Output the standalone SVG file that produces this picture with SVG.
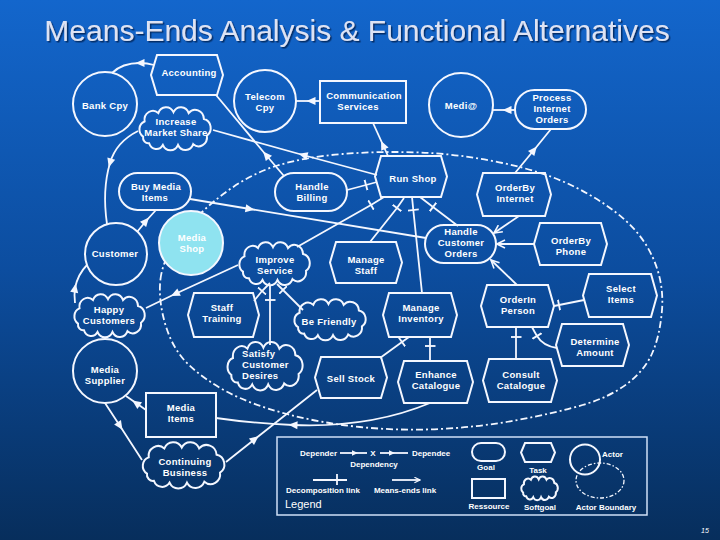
<svg xmlns="http://www.w3.org/2000/svg" width="720" height="540" viewBox="0 0 720 540">
<defs>
  <linearGradient id="bg" x1="0" y1="0" x2="0" y2="1">
    <stop offset="0" stop-color="#1366cc"/>
    <stop offset="0.5" stop-color="#0c4d9f"/>
    <stop offset="1" stop-color="#072e5c"/>
  </linearGradient>
  <filter id="shadow" x="-5%" y="-30%" width="110%" height="160%">
    <feDropShadow dx="1.5" dy="1.5" stdDeviation="0.6" flood-color="#06285a" flood-opacity="0.85"/>
  </filter>
  <marker id="dep" viewBox="0 0 10 10" refX="5" refY="5" markerWidth="10" markerHeight="9" markerUnits="userSpaceOnUse" orient="auto">
    <path d="M0,0.5 L10,5 L0,9.5 z" fill="#f4f7ff"/>
  </marker>
  <marker id="depS" viewBox="0 0 10 10" refX="5" refY="5" markerWidth="7" markerHeight="6" markerUnits="userSpaceOnUse" orient="auto">
    <path d="M0,0.5 L10,5 L0,9.5 z" fill="#f4f7ff"/>
  </marker>
  <marker id="tick" viewBox="0 0 10 10" refX="5" refY="5" markerWidth="11" markerHeight="11" markerUnits="userSpaceOnUse" orient="auto">
    <path d="M5,0 V10" stroke="#f4f7ff" stroke-width="1.7"/>
  </marker>
  <marker id="me" viewBox="0 0 10 10" refX="9" refY="5" markerWidth="10" markerHeight="10" markerUnits="userSpaceOnUse" orient="auto">
    <path d="M1,1 L9,5 L1,9" fill="none" stroke="#f4f7ff" stroke-width="1.6"/>
  </marker>
  <marker id="meS" viewBox="0 0 10 10" refX="9" refY="5" markerWidth="7" markerHeight="7" markerUnits="userSpaceOnUse" orient="auto">
    <path d="M1,1 L9,5 L1,9" fill="none" stroke="#f4f7ff" stroke-width="1.6"/>
  </marker>
  <symbol id="cloud" viewBox="0 0 100 50" preserveAspectRatio="none" style="overflow:visible">
    <path vector-effect="non-scaling-stroke" fill="none" stroke="#f4f7ff" stroke-width="2" d="M8,34 A10,10 0 0 1 10,16 A11,11 0 0 1 28,6 A11,11 0 0 1 48,5 A11,11 0 0 1 68,6 A11.5,11.5 0 0 1 88,13 A11,11 0 0 1 92,33 A11,11 0 0 1 74,43 A11,11 0 0 1 54,44 A11,11 0 0 1 34,44 A10,10 0 0 1 16,42 A7,7 0 0 1 8,34 Z"/>
  </symbol>
</defs>
<style>
  .nd { fill: none; stroke: #f4f7ff; stroke-width: 2; }
  .ln { fill: none; stroke: #f4f7ff; stroke-width: 1.8; }
  .dep { marker-mid: url(#dep); }
  .dec { marker-mid: url(#tick); }
  .mea { marker-end: url(#me); }
  .t { font-family: "Liberation Sans", Arial, sans-serif; font-size: 9.5px; letter-spacing: 0.3px; font-weight: bold; fill: #ffffff; text-anchor: middle; }
  .lg { font-family: "Liberation Sans", Arial, sans-serif; font-size: 8px; font-weight: bold; fill: #ffffff; text-anchor: middle; }
  .title { font-family: "Liberation Sans", Arial, sans-serif; font-size: 30px; text-anchor: middle; fill: #dde3f4; }
</style>

<rect width="720" height="540" fill="url(#bg)"/>

<text class="title" x="357" y="41" filter="url(#shadow)">Means-Ends Analysis &amp; Functional Alternatives</text>

<g id="boundary">
  <path fill="none" stroke="#f4f7ff" stroke-width="1.8" stroke-dasharray="7 3 2 3" d="M160.5,279 Q163,258 180.5,235.5 Q198,213 224,193.5 Q250,174 277.5,165.5 Q305,157 342.5,154 Q380,151 420,152.5 Q460,154 502.5,163 Q545,172 575,187 Q605,202 625,220 Q645,238 654.5,261.5 Q664,285 662,310 Q660,335 652.5,352.5 Q645,370 627.5,383.5 Q610,397 582.5,405 Q555,413 517.5,420 Q480,427 440,429 Q400,431 360,427 Q320,423 285,413.5 Q250,404 227.5,392 Q205,380 189,365 Q173,350 165.5,325 Q158,300 160.5,279 Z"/>
</g>

<g id="connectors">
  <path class="ln dep" d="M284,176 L266,155 L216,95"/>
  <path class="ln dep" d="M154,65 Q147,63 140,63 Q122,63 112,73"/>
  <path class="ln dep" d="M377,175 L303,155 L213,130"/>
  <path class="ln dep" d="M138,131 Q116,142 110,163 Q102,190 107,224"/>
  <path class="ln dep" d="M137,232 L146,221 L156,210"/>
  <path class="ln dep" d="M190,199 L250,209 L426,238"/>
  <path class="ln dep" d="M320,101 L311,101 L296,101"/>
  <path class="ln dep" d="M388,156 L383,145 L373,123"/>
  <path class="ln dep" d="M515,110 L507,110 L493,110"/>
  <path class="ln dep" d="M515,173 L534,150 L551,129"/>
  <path class="ln dep" d="M238,265 L175,294 L146,308"/>
  <path class="ln dep" d="M75,303 Q74,295 75,288 Q78,274 87,265"/>
  <path class="ln dep" d="M226,462 L255,439 L317,390"/>
  <path class="ln dep" d="M105,403 L120,426 L142,460"/>
  <path class="ln dep" d="M146,410 L136,403 L126,396"/>
  <path class="ln dep" d="M430,403 Q370,428 293,425 Q250,423 216,418"/>
  <path class="ln dec" d="M347,190 L366,185 L377,182"/>
  <path class="ln dec" d="M297,247 L371,205 L384,197"/>
  <path class="ln dec" d="M370,242 L397,208 L404,198"/>
  <path class="ln dec" d="M422,293 L413.3,210 L412,197"/>
  <path class="ln dec" d="M458,226 L433,207 L420,197"/>
  <path class="ln dec" d="M254,301 L262,291 L270,283"/>
  <path class="ln dec" d="M270,345 L270,300 L270,285"/>
  <path class="ln dec" d="M303,310 L283,290 L277,284"/>
  <path class="ln dec" d="M380,358 L402,342 L409,337"/>
  <path class="ln dec" d="M430,361 L430,346 L430,337"/>
  <path class="ln dec" d="M584,300 L559,305 L554,306"/>
  <path class="ln dec" d="M557,348 Q543,346 537,336 Q534,331 532,327"/>
  <path class="ln dec" d="M516,359 L516,337 L516,327"/>
  <path class="ln mea" d="M519,216 L494,233"/>
  <path class="ln mea" d="M534,244 L497,244"/>
  <path class="ln mea" d="M517,285 L491,260"/>
</g>

<g id="accounting"><polygon class="nd" points="157,55 217,55 223,75 217,95 157,95 151,75"/><text class="t" x="189" y="76.4">Accounting</text></g>
<g id="bank-cpy"><circle class="nd" cx="105" cy="104" r="32"/><text class="t" x="105" y="109.4">Bank Cpy</text></g>
<g id="telecom-cpy"><circle class="nd" cx="265" cy="101" r="31"/><text class="t" x="265" y="99.9">Telecom</text><text class="t" x="265" y="110.9">Cpy</text></g>
<g id="communication-services"><rect class="nd" x="320" y="81" width="86" height="42"/><text class="t" x="364" y="99.4">Communication</text><text class="t" x="358" y="110.4">Services</text></g>
<g id="medi"><circle class="nd" cx="461" cy="105" r="32"/><text class="t" x="461" y="109.4">Medi@</text></g>
<g id="process-internet-orders"><rect class="nd" x="515" y="90" width="71" height="39" rx="19.5"/><text class="t" x="552" y="101.4">Process</text><text class="t" x="552" y="112.4">Internet</text><text class="t" x="552" y="123.4">Orders</text></g>
<g id="increase-market-share"><use href="#cloud" x="137" y="108" width="76" height="42"/><text class="t" x="176" y="124.9">Increase</text><text class="t" x="176" y="135.9">Market Share</text></g>
<g id="buy-media-items"><rect class="nd" x="119" y="173" width="72" height="37" rx="18.5"/><text class="t" x="156" y="190.4">Buy Media</text><text class="t" x="155" y="201.4">Items</text></g>
<g id="handle-billing"><rect class="nd" x="275" y="173" width="72" height="38" rx="19"/><text class="t" x="312" y="189.9">Handle</text><text class="t" x="312" y="200.9">Billing</text></g>
<g id="run-shop"><polygon class="nd" points="381,156 441,156 447,176.5 441,197 381,197 375,176.5"/><text class="t" x="413" y="182.4">Run Shop</text></g>
<g id="orderby-internet"><polygon class="nd" points="483,173 545,173 551,194.5 545,216 483,216 477,194.5"/><text class="t" x="515" y="190.9">OrderBy</text><text class="t" x="515" y="201.9">Internet</text></g>
<g id="customer"><circle class="nd" cx="116" cy="254" r="31"/><text class="t" x="115" y="257.4">Customer</text></g>
<g id="media-shop"><circle cx="191" cy="243" r="32" fill="#8fe3f0" stroke="#f4f7ff" stroke-width="2"/><text class="t" x="192" y="241.4">Media</text><text class="t" x="192" y="252.4">Shop</text></g>
<g id="improve-service"><use href="#cloud" x="237" y="243" width="75" height="42"/><text class="t" x="275" y="263.4">Improve</text><text class="t" x="275" y="274.4">Service</text></g>
<g id="manage-staff"><polygon class="nd" points="336,242 396,242 402,262.5 396,283 336,283 330,262.5"/><text class="t" x="366" y="262.9">Manage</text><text class="t" x="366" y="273.9">Staff</text></g>
<g id="handle-customer-orders"><rect class="nd" x="425" y="225" width="71" height="38" rx="19"/><text class="t" x="461" y="235.4">Handle</text><text class="t" x="461" y="246.4">Customer</text><text class="t" x="461" y="257.4">Orders</text></g>
<g id="orderby-phone"><polygon class="nd" points="540,223 601,223 607,244 601,265 540,265 534,244"/><text class="t" x="571" y="243.9">OrderBy</text><text class="t" x="571" y="254.9">Phone</text></g>
<g id="happy-customers"><use href="#cloud" x="72" y="295" width="75" height="42"/><text class="t" x="109" y="312.9">Happy</text><text class="t" x="109" y="323.9">Customers</text></g>
<g id="staff-training"><polygon class="nd" points="194,293 253,293 259,315 253,337 194,337 188,315"/><text class="t" x="222" y="310.9">Staff</text><text class="t" x="222" y="321.9">Training</text></g>
<g id="be-friendly"><use href="#cloud" x="292" y="300" width="76" height="40"/><text class="t" x="329" y="325.4">Be Friendly</text></g>
<g id="manage-inventory"><polygon class="nd" points="389,293 451,293 457,315 451,337 389,337 383,315"/><text class="t" x="421" y="311.4">Manage</text><text class="t" x="421" y="322.4">Inventory</text></g>
<g id="orderin-person"><polygon class="nd" points="487,285 548,285 554,306 548,327 487,327 481,306"/><text class="t" x="518" y="302.9">OrderIn</text><text class="t" x="518" y="313.9">Person</text></g>
<g id="select-items"><polygon class="nd" points="589,274 651,274 657,295.5 651,317 589,317 583,295.5"/><text class="t" x="621" y="291.9">Select</text><text class="t" x="621" y="302.9">Items</text></g>
<g id="determine-amount"><polygon class="nd" points="562,324 623,324 629,345 623,366 562,366 556,345"/><text class="t" x="595" y="344.9">Determine</text><text class="t" x="595" y="355.9">Amount</text></g>
<g id="satisfy-customer-desires"><use href="#cloud" x="225" y="343" width="80" height="47"/><text class="t" x="242" y="357.4" style="text-anchor:start">Satisfy</text><text class="t" x="242" y="368.4" style="text-anchor:start">Customer</text><text class="t" x="242" y="379.4" style="text-anchor:start">Desires</text></g>
<g id="sell-stock"><polygon class="nd" points="321,357 381,357 387,377.5 381,398 321,398 315,377.5"/><text class="t" x="351" y="382.4">Sell Stock</text></g>
<g id="enhance-catalogue"><polygon class="nd" points="404,361 467,361 473,382 467,403 404,403 398,382"/><text class="t" x="436" y="377.9">Enhance</text><text class="t" x="436" y="388.9">Catalogue</text></g>
<g id="consult-catalogue"><polygon class="nd" points="489,359 551,359 557,380.5 551,402 489,402 483,380.5"/><text class="t" x="521" y="377.9">Consult</text><text class="t" x="521" y="388.9">Catalogue</text></g>
<g id="media-supplier"><circle class="nd" cx="105" cy="371" r="32"/><text class="t" x="105" y="372.9">Media</text><text class="t" x="105" y="383.9">Supplier</text></g>
<g id="media-items"><rect class="nd" x="146" y="393" width="70" height="44"/><text class="t" x="181" y="411.4">Media</text><text class="t" x="181" y="422.4">Items</text></g>
<g id="continuing-business"><use href="#cloud" x="140" y="443" width="87" height="45"/><text class="t" x="185" y="465.4">Continuing</text><text class="t" x="185" y="476.4">Business</text></g>

<g id="legend">
  <rect x="277" y="437" width="370" height="78" fill="none" stroke="#cfe0f7" stroke-width="1.5"/>
  <text class="lg" x="337" y="456" style="text-anchor:end">Depender</text>
  <path class="ln" stroke-width="1.3" style="marker-mid:url(#depS)" d="M340,453 L355,453 L367,453"/>
  <text class="lg" x="373" y="456">X</text>
  <path class="ln" stroke-width="1.3" style="marker-mid:url(#depS)" d="M380,453 L392,453 L408,453"/>
  <text class="lg" x="412" y="456" style="text-anchor:start">Dependee</text>
  <text class="lg" x="374" y="467">Dependency</text>
  <path class="ln" stroke-width="1.3" d="M313,480 L347,480 M337,474 L337,485"/>
  <text class="lg" x="323" y="493">Decomposition link</text>
  <path class="ln" stroke-width="1.3" style="marker-end:url(#meS)" d="M392,480 L420,480"/>
  <text class="lg" x="405" y="493">Means-ends link</text>
  <text x="285" y="508" font-family="'Liberation Sans', Arial, sans-serif" font-size="11" fill="#ffffff">Legend</text>
  <rect class="nd" x="472" y="443" width="33" height="18" rx="9" stroke-width="1.5"/>
  <text class="lg" x="486" y="470">Goal</text>
  <polygon class="nd" stroke-width="1.5" points="525,443 551,443 555,452.5 551,462 525,462 521,452.5"/>
  <text class="lg" x="538" y="473">Task</text>
  <rect class="nd" x="472" y="479" width="33" height="19" stroke-width="1.5"/>
  <text class="lg" x="489" y="509">Ressource</text>
  <use href="#cloud" x="520" y="477" width="39" height="23"/>
  <text class="lg" x="540" y="510">Softgoal</text>
  <circle class="nd" cx="585" cy="459.5" r="15" stroke-width="1.5"/>
  <text class="lg" x="602" y="457" style="text-anchor:start">Actor</text>
  <ellipse cx="600" cy="480.5" rx="24" ry="17.5" fill="none" stroke="#f4f7ff" stroke-width="1.3" stroke-dasharray="4 2 1.5 2"/>
  <text class="lg" x="606" y="510">Actor Boundary</text>
</g>

<text x="705" y="533" font-family="'Liberation Sans', Arial, sans-serif" font-size="7" font-style="italic" fill="#ffffff" text-anchor="middle">15</text>
</svg>
